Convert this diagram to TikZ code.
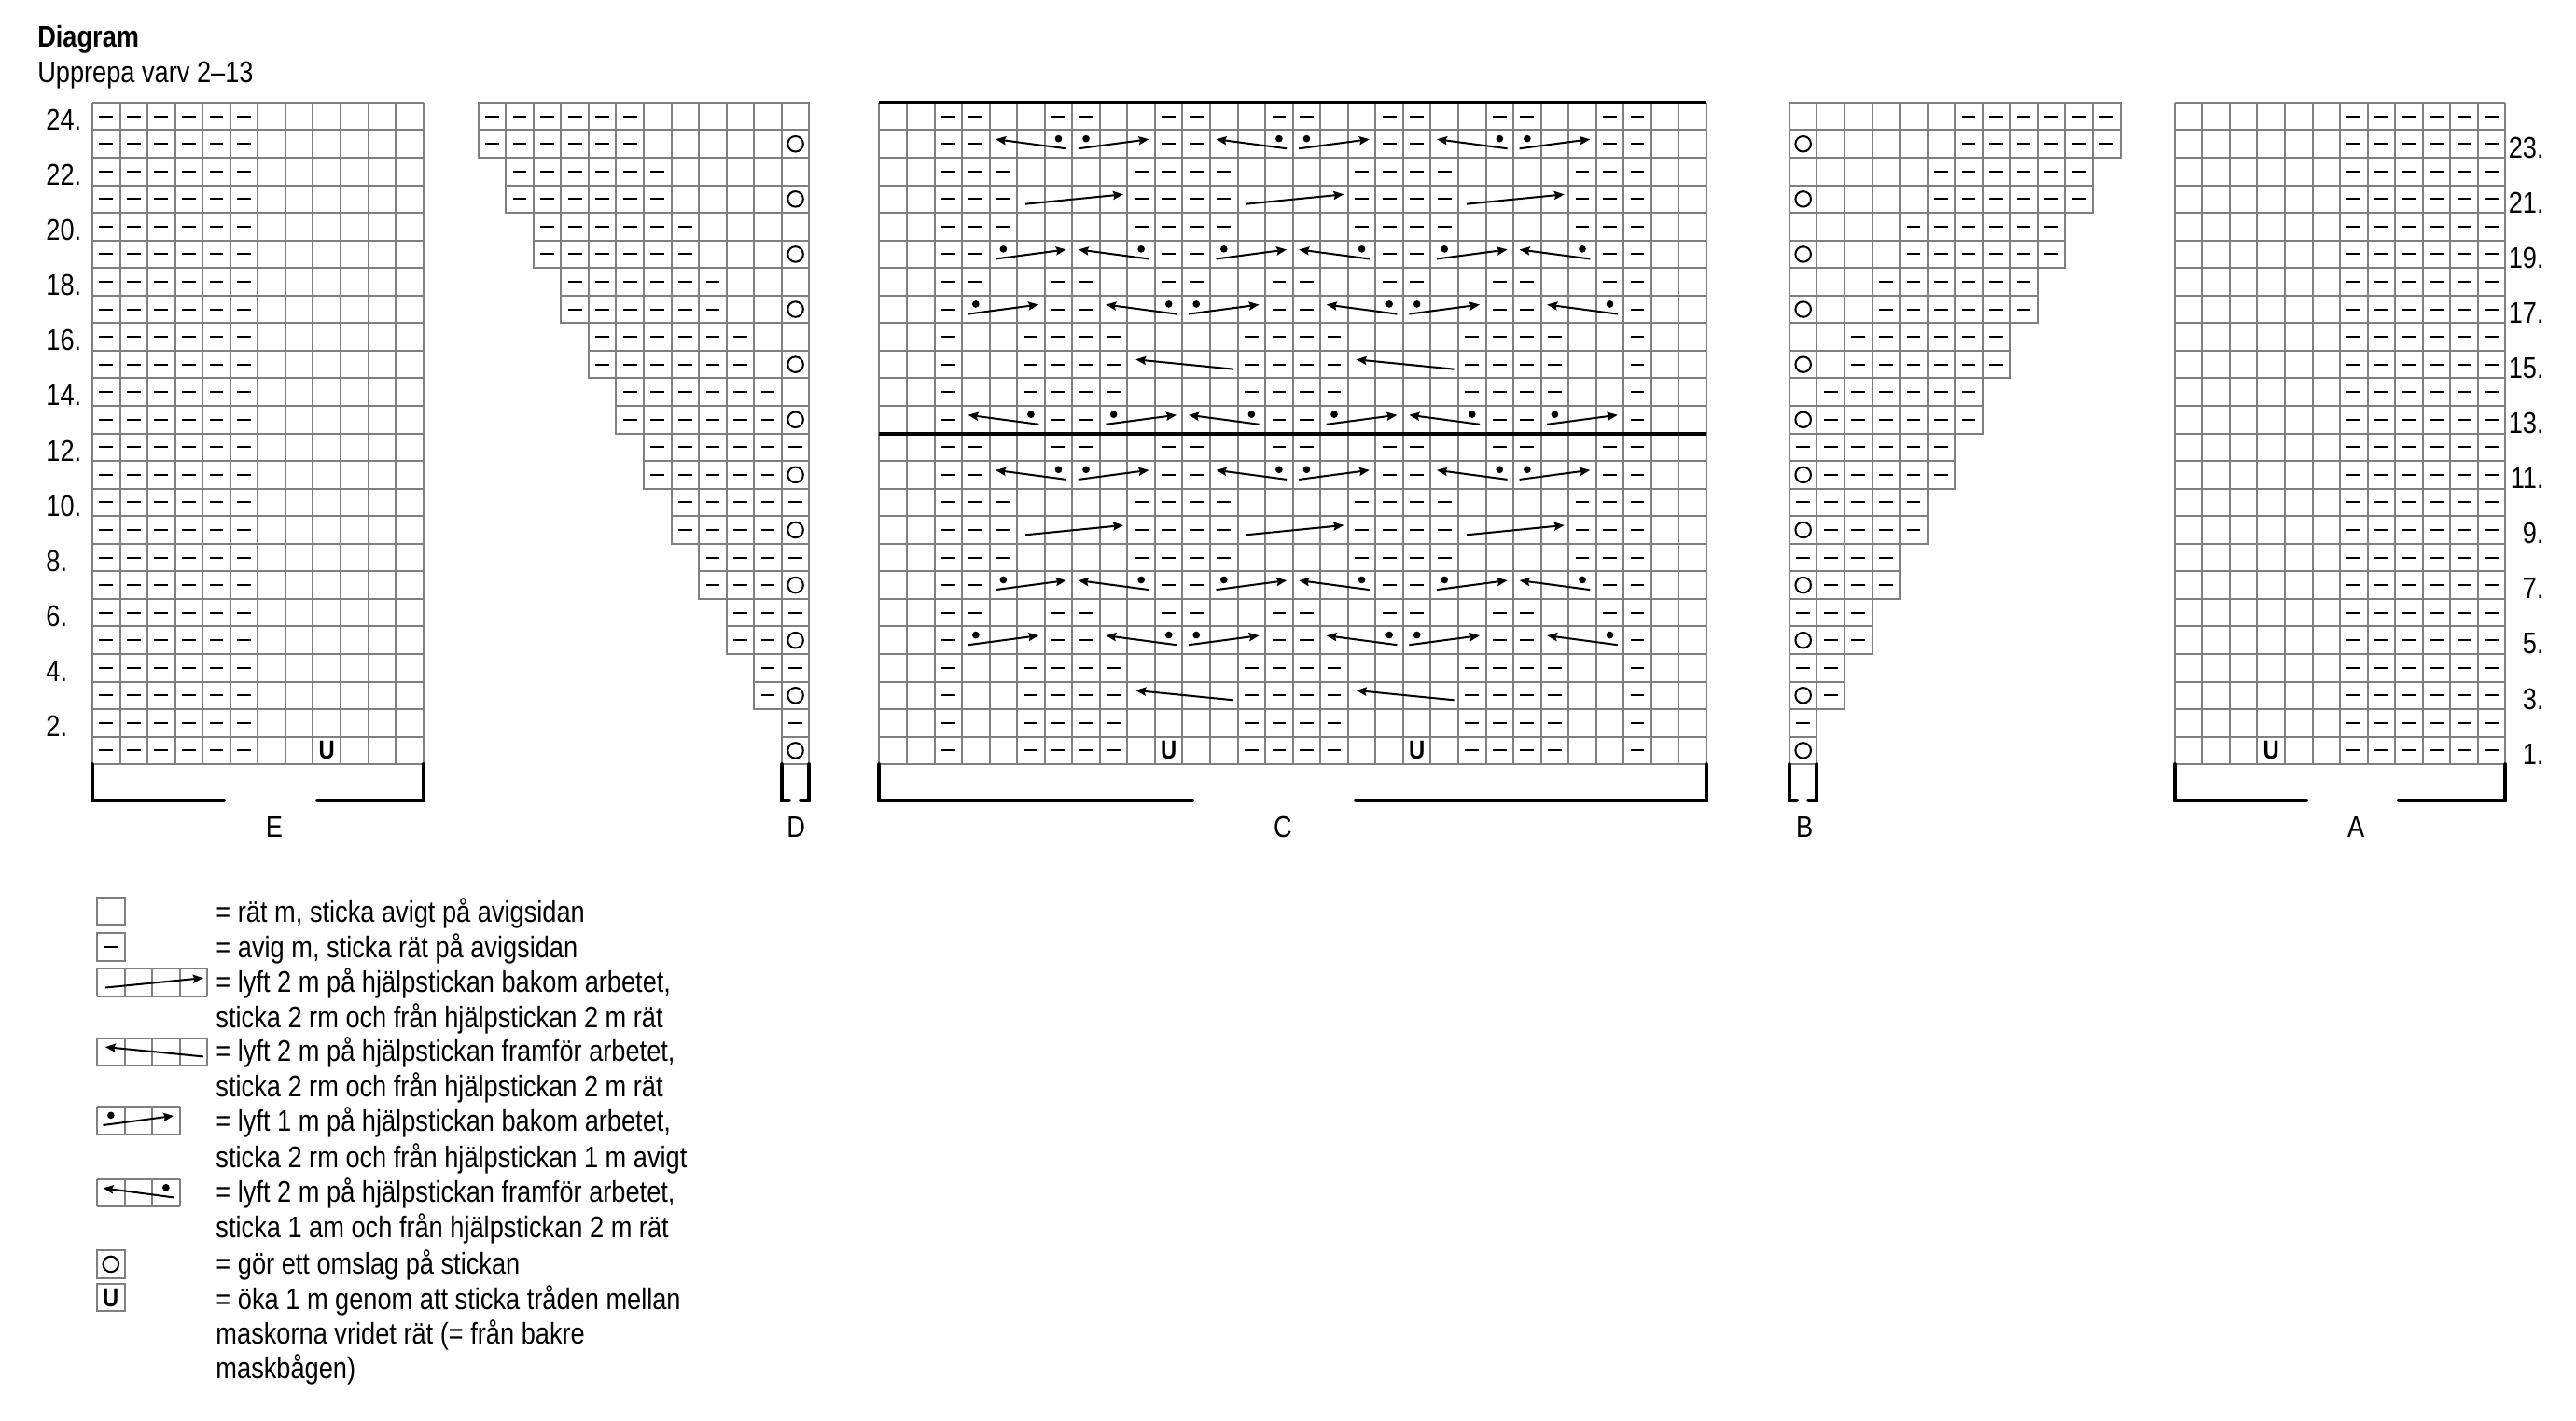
\documentclass[tikz,border=0pt]{standalone}
\usepackage{fontspec}
\setmainfont{Liberation Sans}[FakeStretch=0.85]
\usepackage{tikz}
\usetikzlibrary{arrows.meta}

\newcommand{\chfont}{\fontsize{16}{18.75}\selectfont}
\newcommand{\incfont}{\fontsize{14}{14}\selectfont\bfseries}

\tikzset{
    gridline/.style={draw=black!50, line width=1pt, step=1},
    purlmark/.style={draw=black, line width=1pt},
    yomark/.style={draw=black, line width=1pt},
    cable/.style={draw=black, line width=1pt, ->},
    rowsep/.style={draw=black, line width=2pt},
    bracket/.style={draw=black, line width=2pt, line cap=round},
    inc/.style={font=\incfont, inner sep=0pt}
}

% cell (c,r) covers (c-1,r-1) to (c,r)
\newcommand{\purlcell}[2]{\draw[purlmark] (#1-0.75,#2-0.5) -- (#1-0.25,#2-0.5);}
\newcommand{\yocell}[2]{\draw[yomark] (#1-0.5,#2-0.5) circle (0.28);}
\newcommand{\inccell}[2]{\node[inc] at (#1-0.5,#2-0.5) {U};}
% cables
\newcommand{\rcthree}[2]{\fill (#1-0.5,#2-0.31) circle (0.13);
  \draw[cable] (#1-0.78,#2-0.67) -- (#1+1.78,#2-0.33);}
\newcommand{\lcthree}[2]{\fill (#1+1.5,#2-0.31) circle (0.13);
  \draw[cable] (#1+1.78,#2-0.67) -- (#1-0.78,#2-0.33);}
\newcommand{\rcfour}[2]{\draw[cable] (#1-0.7,#2-0.68) -- (#1+2.85,#2-0.33);}
\newcommand{\lcfour}[2]{\draw[cable] (#1+2.85,#2-0.67) -- (#1-0.7,#2-0.32);}

% 12 x 24 side chart: purl cols #1..#2, increase at col #3 in row 1
\newcommand{\sidechart}[3]{%
  \draw[gridline] (0,0) grid (12,24);
  \foreach \r in {1,...,24} {\foreach \c in {#1,...,#2} {\purlcell{\c}{\r}}}
  \inccell{#3}{1}}

% stair chart, yarn over in col 12
\newcommand{\stairchart}{%
  \foreach \r in {1,...,24} {
    \pgfmathtruncatemacro{\s}{12-int((\r-1)/2)}
    \pgfmathtruncatemacro{\e}{min(\s+5,12-mod(\r,2))}
    \foreach \c in {\s,...,12} {\draw[gridline] (\c-1,\r-1) rectangle (\c,\r);}
    \ifnum\e<\s\relax\else
      \foreach \c in {\s,...,\e} {\purlcell{\c}{\r}}
    \fi
    \ifodd\r\relax \yocell{12}{\r}\fi
  }}

\newcommand{\widebracket}[3]{%
  \draw[bracket] (#2,-1.3) -- (0,-1.3) -- (0,0);
  \draw[bracket] (#3,-1.3) -- (#1,-1.3) -- (#1,0);}

\begin{document}
\begin{tikzpicture}[x=14.775pt, y=14.775pt, >={Stealth[length=5.5pt, width=4.6pt, inset=0.8pt]},
    every node/.style={font=\chfont, inner sep=0pt}]
  \useasboundingbox (-3.35,-23.79) rectangle (90.08,27.72);

  \node[anchor=base west] (title)  at (-2,26)    {\bfseries Diagram};
  \node[anchor=base west] (repeat) at (-2,24.72) {Upprepa varv 2–13};

  % E
  \begin{scope}
    \sidechart{1}{6}{9}
    \foreach \r in {2,4,...,24} {\node[anchor=base west] (rowE-\r) at (-1.69,\r-1) {\r.};}
    \widebracket{12}{4.77}{8.16}
    \node[anchor=base] (lblE) at (6.6,-2.66) {E};
  \end{scope}

  % D
  \begin{scope}[shift={(14,0)}]
    \stairchart
    \draw[bracket] (11.27,-1.3) -- (11,-1.3) -- (11,0);
    \draw[bracket] (11.69,-1.3) -- (12,-1.3) -- (12,0);
    \node[anchor=base] (lblD) at (11.52,-2.66) {D};
  \end{scope}

  % C
  \begin{scope}[shift={(28.54,0)}]
    \draw[gridline] (0,0) grid (30,24);
    \foreach \r in {6,12,18,24} {\foreach \c in {3,4,7,8,11,12,15,16,19,20,23,24,27,28} {\purlcell{\c}{\r}}}
    \foreach \r in {7,11,19,23} {\foreach \c in {3,4,11,12,19,20,27,28} {\purlcell{\c}{\r}}}
    \foreach \r in {8,9,10,20,21,22} {\foreach \c in {3,4,5,10,11,12,13,18,19,20,21,26,27,28} {\purlcell{\c}{\r}}}
    \foreach \r in {5,13,17} {\foreach \c in {3,7,8,15,16,23,24,28} {\purlcell{\c}{\r}}}
    \foreach \r in {1,2,3,4,14,15,16} {\foreach \c in {3,6,7,8,9,14,15,16,17,22,23,24,25,28} {\purlcell{\c}{\r}}}
    \foreach \r in {11,23} {\foreach \c in {5,13,21} {\lcthree{\c}{\r} \rcthree{\c+3}{\r}}}
    \foreach \r in {9,21} {\foreach \c in {6,14,22} {\rcfour{\c}{\r}}}
    \foreach \r in {7,19} {\foreach \c in {5,13,21} {\rcthree{\c}{\r} \lcthree{\c+3}{\r}}}
    \foreach \r in {5,17} {\foreach \c in {4,12,20} {\rcthree{\c}{\r} \lcthree{\c+5}{\r}}}
    \foreach \r in {3,15} {\foreach \c in {10,18} {\lcfour{\c}{\r}}}
    \foreach \c in {4,12,20} {\lcthree{\c}{13} \rcthree{\c+5}{13}}
    \inccell{11}{1}
    \inccell{20}{1}
    \draw[rowsep] (0,24) -- (30,24);
    \draw[rowsep] (0,12) -- (30,12);
    \widebracket{30}{11.36}{17.28}
    \node[anchor=base] (lblC) at (14.64,-2.66) {C};
  \end{scope}

  % B (mirror of D)
  \begin{scope}[shift={(73.55,0)}, xscale=-1]
    \stairchart
  \end{scope}
  \begin{scope}[shift={(61.55,0)}]
    \draw[bracket] (0.27,-1.3) -- (0,-1.3) -- (0,0);
    \draw[bracket] (0.69,-1.3) -- (1,-1.3) -- (1,0);
    \node[anchor=base] (lblB) at (0.55,-2.66) {B};
  \end{scope}

  % A
  \begin{scope}[shift={(75.52,0)}]
    \sidechart{7}{12}{4}
    \foreach \r in {1,3,...,23} {\node[anchor=base east] (rowA-\r) at (13.41,\r-1) {\r.};}
    \widebracket{12}{4.78}{8.13}
    \node[anchor=base] (lblA) at (6.58,-2.66) {A};
  \end{scope}

  % legend
  \begin{scope}[shift={(0.17,-5.83)}]
    \draw[gridline] (0,0) rectangle (1,1);
  \end{scope}
  \begin{scope}[shift={(0.17,-7.13)}]
    \draw[gridline] (0,0) rectangle (1,1);
    \purlcell{1}{1}
  \end{scope}
  \begin{scope}[shift={(0.17,-8.42)}]
    \draw[gridline] (0,0) grid (4,1);
    \rcfour{1}{1}
  \end{scope}
  \begin{scope}[shift={(0.17,-10.93)}]
    \draw[gridline] (0,0) grid (4,1);
    \lcfour{1}{1}
  \end{scope}
  \begin{scope}[shift={(0.17,-13.42)}]
    \draw[gridline] (0,0) grid (3,1);
    \rcthree{1}{1}
  \end{scope}
  \begin{scope}[shift={(0.17,-16.04)}]
    \draw[gridline] (0,0) grid (3,1);
    \lcthree{1}{1}
  \end{scope}
  \begin{scope}[shift={(0.17,-18.63)}]
    \draw[gridline] (0,0) rectangle (1,1);
    \yocell{1}{1}
  \end{scope}
  \begin{scope}[shift={(0.17,-19.84)}]
    \draw[gridline] (0,0) rectangle (1,1);
    \inccell{1}{1}
  \end{scope}

  \node[anchor=base west] (key1)  at (4.47,-5.72)  {= rät m, sticka avigt på avigsidan};
  \node[anchor=base west] (key2)  at (4.47,-7.00)  {= avig m, sticka rät på avigsidan};
  \node[anchor=base west] (key3)  at (4.47,-8.26)  {= lyft 2 m på hjälpstickan bakom arbetet,};
  \node[anchor=base west] (key3b) at (4.47,-9.54)  {sticka 2 rm och från hjälpstickan 2 m rät};
  \node[anchor=base west] (key4)  at (4.47,-10.76) {= lyft 2 m på hjälpstickan framför arbetet,};
  \node[anchor=base west] (key4b) at (4.47,-12.05) {sticka 2 rm och från hjälpstickan 2 m rät};
  \node[anchor=base west] (key5)  at (4.47,-13.30) {= lyft 1 m på hjälpstickan bakom arbetet,};
  \node[anchor=base west] (key5b) at (4.47,-14.62) {sticka 2 rm och från hjälpstickan 1 m avigt};
  \node[anchor=base west] (key6)  at (4.47,-15.87) {= lyft 2 m på hjälpstickan framför arbetet,};
  \node[anchor=base west] (key6b) at (4.47,-17.16) {sticka 1 am och från hjälpstickan 2 m rät};
  \node[anchor=base west] (key7)  at (4.47,-18.48) {= gör ett omslag på stickan};
  \node[anchor=base west] (key8)  at (4.47,-19.76) {= öka 1 m genom att sticka tråden mellan};
  \node[anchor=base west] (key8b) at (4.47,-21.02) {maskorna vridet rät (= från bakre};
  \node[anchor=base west] (key8c) at (4.47,-22.27) {maskbågen)};
\end{tikzpicture}
\end{document}
